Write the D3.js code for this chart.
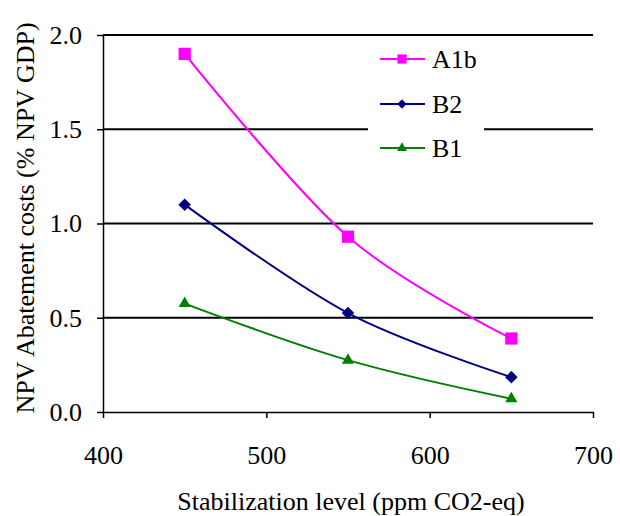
<!DOCTYPE html>
<html><head><meta charset="utf-8">
<script src="https://cdn.jsdelivr.net/npm/d3@7"></script>
<style>body{margin:0;background:#fff}svg{display:block}</style>
</head><body><svg id="c" width="620" height="516" font-family="'Liberation Serif', 'DejaVu Serif', serif"></svg>
<script>
const xValues = [450, 550, 650];
const seriesNames = ["A1b", "B2", "B1"];
const a1b = [1.90, 0.93, 0.39];
const b2 = [1.10, 0.525, 0.185];
const b1 = [0.575, 0.275, 0.07];
const xTicks = [400, 500, 600, 700];
const yTicks = [0.0, 0.5, 1.0, 1.5, 2.0];
const colors = ["#FF00FF", "#000080", "#008000"];
const markers = ["square", "diamond", "triangle"];

const FONT = "Liberation Serif";
const svg = d3.select("#c");
const x = d3.scaleLinear().domain([400, 700]).range([103, 593]);
const y = d3.scaleLinear().domain([0, 2]).range([412, 35]);

// gridlines
svg.append("g").selectAll("line").data(yTicks.filter(d => d > 0)).join("line")
  .attr("x1", 103).attr("x2", 593).attr("y1", d => y(d)).attr("y2", d => y(d))
  .attr("stroke", "#000").attr("stroke-width", 2);

// y axis
const ya = svg.append("g").attr("transform", "translate(103,0)")
  .call(d3.axisLeft(y).tickValues(yTicks).tickFormat(d3.format(".1f")).tickSizeInner(6).tickSizeOuter(0).tickPadding(15));
ya.attr("font-family", FONT).attr("font-size", 26);
ya.select(".domain").attr("stroke-width", 1.5);
ya.selectAll(".tick line").attr("stroke-width", 1.5);
ya.selectAll("text").attr("font-family", FONT).attr("font-size", 26).attr("fill", "#000");

// x axis
const xa = svg.append("g").attr("transform", "translate(0,412)")
  .call(d3.axisBottom(x).tickValues(xTicks).tickFormat(d3.format("d")).tickSizeInner(6).tickSizeOuter(0).tickPadding(28));
xa.attr("font-family", FONT).attr("font-size", 26);
xa.select(".domain").attr("stroke-width", 1.5);
xa.selectAll(".tick line").attr("stroke-width", 1.5);
xa.selectAll("text").attr("font-family", FONT).attr("font-size", 26).attr("fill", "#000");

// titles
svg.append("text").attr("x", 351).attr("y", 510).attr("text-anchor", "middle")
  .attr("font-family", FONT).attr("font-size", 26).text("Stabilization level (ppm CO2-eq)");
svg.append("text").attr("transform", "translate(34,218) rotate(-90)").attr("text-anchor", "middle")
  .attr("font-family", FONT).attr("font-size", 26).text("NPV Abatement costs (% NPV GDP)");

const data = [a1b, b2, b1];
const line = d3.line().x((d, i) => x(xValues[i])).y(d => y(d)).curve(d3.curveCardinal.tension(0));

const plotSym = { square: d3.symbol(d3.symbolSquare, 150), diamond: d3.symbol(d3.symbolDiamond2, 100), triangle: d3.symbol(d3.symbolTriangle2, 105) };
const legSym = { square: d3.symbol(d3.symbolSquare, 85), diamond: d3.symbol(d3.symbolDiamond2, 55), triangle: d3.symbol(d3.symbolTriangle2, 72) };

data.forEach((vals, k) => {
  svg.append("path").attr("d", line(vals)).attr("fill", "none")
    .attr("stroke", colors[k]).attr("stroke-width", 2);
  svg.append("g").selectAll("path").data(vals).join("path")
    .attr("transform", (d, i) => `translate(${x(xValues[i])},${y(d)})`)
    .attr("d", plotSym[markers[k]]()).attr("fill", colors[k]);
});

// legend
const lg = svg.append("g");
lg.append("rect").attr("x", 368).attr("y", 38).attr("width", 116).attr("height", 130).attr("fill", "#fff");
seriesNames.forEach((name, k) => {
  const ly = [59, 104, 148][k];
  lg.append("line").attr("x1", 380).attr("x2", 425).attr("y1", ly).attr("y2", ly)
    .attr("stroke", colors[k]).attr("stroke-width", 2);
  lg.append("path").attr("transform", `translate(402,${ly})`)
    .attr("d", legSym[markers[k]]()).attr("fill", colors[k]);
  lg.append("text").attr("x", 432).attr("y", ly + 9).attr("font-family", FONT).attr("font-size", 26).text(name);
});
</script></body></html>
